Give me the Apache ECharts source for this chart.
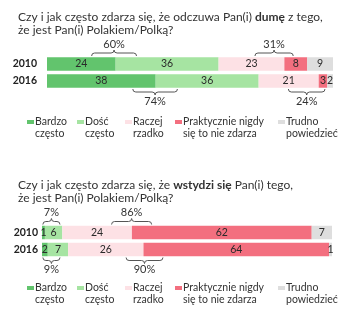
<!DOCTYPE html>
<html>
<head>
<meta charset="utf-8">
<script src="https://cdn.jsdelivr.net/npm/echarts@6/dist/echarts.min.js"></script>
<style>
  html, body { margin: 0; padding: 0; background: #fff; }
  #chart { width: 360px; height: 321px; }
</style>
</head>
<body>
<div id="chart"></div>
<script>
// kategorie i odpowiedzi
const years = ['2010', '2016'];
const answers = ['Bardzo\nczęsto', 'Dość\nczęsto', 'Raczej\nrzadko', 'Praktycznie nigdy\nsię to nie zdarza', 'Trudno\npowiedzieć'];
const colors = ['#62c46d', '#a6e4a2', '#fde1e5', '#f36f7f', '#dedede'];

// duma (%)
const prideBardzo = [24, 38];
const prideDosc = [36, 36];
const prideRaczej = [23, 21];
const prideNigdy = [8, 3];
const prideTrudno = [9, 2];

// wstyd (%)
const shameBardzo = [1, 2];
const shameDosc = [6, 7];
const shameRaczej = [24, 26];
const shameNigdy = [62, 64];
const shameTrudno = [7, 1];

// klamry: [od, do, rok, strona, etykieta]
const prideBrackets = [
  [15.6, 31.3, 0, 'up', '60%'],
  [72.7, 86.1, 0, 'up', '31%'],
  [30, 45.6, 1, 'down', '74%'],
  [84.4, 97.2, 1, 'down', '24%']
];
const shameBrackets = [
  [0.3, 6.2, 0, 'up', '7%'],
  [24, 37.8, 0, 'up', '86%'],
  [0.3, 6.2, 1, 'down', '9%'],
  [29, 41.7, 1, 'down', '90%']
];

const font = 'Lato, "Noto Sans", sans-serif';
const legendLeft = [27, 77, 125, 175, 278];
// prostokąt u góry, pusty punkt na dole -> znacznik przy pierwszej linii
const legendIcon = 'path://M0,0L7,0L7,4L0,4Z M0,16L0.01,16Z';

let chart = echarts.init(document.getElementById('chart'));

function barSeries (idx, data, stack, gridIdx) {
  return {
    name: answers[idx],
    type: 'bar',
    stack: stack,
    xAxisIndex: gridIdx,
    yAxisIndex: gridIdx,
    barWidth: 13.5,
    data: data,
    itemStyle: { color: colors[idx] },
    label: {
      show: true,
      position: 'inside',
      color: '#2a2a2a',
      fontSize: 10.5,
      fontFamily: font
    },
    emphasis: { disabled: true }
  };
}

function bracketSeries (data, gridIdx) {
  return {
    type: 'custom',
    xAxisIndex: gridIdx,
    yAxisIndex: gridIdx,
    silent: true,
    data: data,
    renderItem (params, api) {
      let p1 = api.coord([api.value(0), api.value(2)]);
      let p2 = api.coord([api.value(1), api.value(2)]);
      let up = data[params.dataIndex][3] === 'up';
      let d = up ? -1 : 1;
      let y0 = p1[1] + d * 7;
      let x1 = p1[0];
      let x2 = p2[0];
      let xm = (x1 + x2) / 2;
      let h = y0 + d * 4;
      let path = 'M' + x1 + ' ' + (y0 + d) +
        ' Q' + x1 + ' ' + h + ' ' + (x1 + 3) + ' ' + h +
        ' L' + (xm - 3) + ' ' + h +
        ' Q' + xm + ' ' + h + ' ' + xm + ' ' + (h + d * 3) +
        ' Q' + xm + ' ' + h + ' ' + (xm + 3) + ' ' + h +
        ' L' + (x2 - 3) + ' ' + h +
        ' Q' + x2 + ' ' + h + ' ' + x2 + ' ' + (y0 + d);
      return {
        type: 'group',
        children: [
          {
            type: 'path',
            shape: { pathData: path },
            style: { stroke: '#555', lineWidth: 1, fill: null }
          },
          {
            type: 'text',
            style: {
              text: data[params.dataIndex][4],
              x: xm,
              y: y0 + d * 13,
              align: 'center',
              verticalAlign: 'middle',
              fontSize: 11,
              fontFamily: font,
              fill: '#333'
            }
          }
        ]
      };
    }
  };
}

function legends (top) {
  return answers.map((name, i) => ({
    data: [name],
    left: legendLeft[i],
    top: top,
    padding: 0,
    itemWidth: 7,
    itemHeight: 16,
    selectedMode: false,
    icon: legendIcon,
    textStyle: {
      fontSize: 10.5,
      fontFamily: font,
      color: '#333',
      lineHeight: 12,
      padding: [0, 0, 0, -4]
    }
  }));
}

const titleRich = {
  b: { fontWeight: 'bold', fontSize: 12, fontFamily: font, color: '#333' }
};

let option = {
  animation: false,
  title: [
    {
      text: 'Czy i jak często zdarza się, że odczuwa Pan(i) {b|dumę} z tego,\nże jest Pan(i) Polakiem/Polką?',
      left: 13,
      top: 5,
      textStyle: { fontSize: 12, fontWeight: 'normal', fontFamily: font, color: '#333', lineHeight: 13.5, rich: titleRich }
    },
    {
      text: 'Czy i jak często zdarza się, że {b|wstydzi się} Pan(i) tego,\nże jest Pan(i) Polakiem/Polką?',
      left: 13,
      top: 173,
      textStyle: { fontSize: 12, fontWeight: 'normal', fontFamily: font, color: '#333', lineHeight: 13.5, rich: titleRich }
    }
  ],
  legend: legends(116).concat(legends(282)),
  grid: [
    { left: 47, right: 27, top: 55.5, height: 34 },
    { left: 42, right: 28, top: 224, height: 34 }
  ],
  xAxis: [
    { gridIndex: 0, type: 'value', min: 0, max: 100, show: false },
    { gridIndex: 1, type: 'value', min: 0, max: 100, show: false }
  ],
  yAxis: [0, 1].map((g) => ({
    gridIndex: g,
    type: 'category',
    inverse: true,
    data: years,
    axisLine: { show: false },
    axisTick: { show: false },
    axisLabel: {
      margin: g === 0 ? 10 : 4,
      fontWeight: 'bold',
      fontSize: 10.5,
      fontFamily: font,
      color: '#222'
    }
  })),
  series: [
    barSeries(0, prideBardzo, 'duma', 0),
    barSeries(1, prideDosc, 'duma', 0),
    barSeries(2, prideRaczej, 'duma', 0),
    barSeries(3, prideNigdy, 'duma', 0),
    barSeries(4, prideTrudno, 'duma', 0),
    barSeries(0, shameBardzo, 'wstyd', 1),
    barSeries(1, shameDosc, 'wstyd', 1),
    barSeries(2, shameRaczej, 'wstyd', 1),
    barSeries(3, shameNigdy, 'wstyd', 1),
    barSeries(4, shameTrudno, 'wstyd', 1),
    bracketSeries(prideBrackets, 0),
    bracketSeries(shameBrackets, 1)
  ]
};

chart.setOption(option);
</script>
</body>
</html>
